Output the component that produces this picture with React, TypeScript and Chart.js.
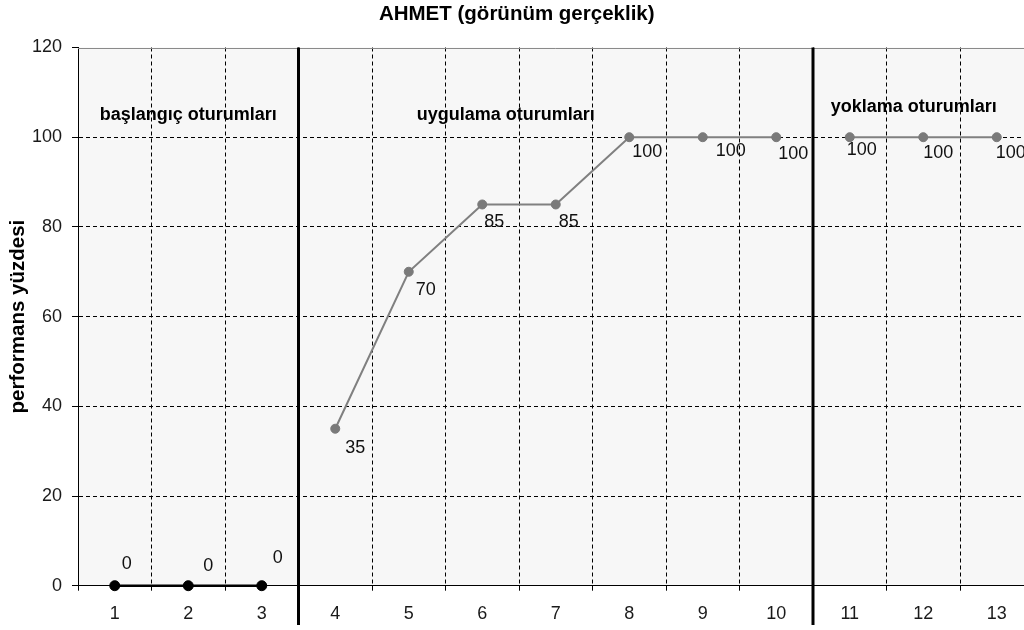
import React, { useEffect, useRef } from 'react';
import { Chart, registerables } from 'chart.js';

Chart.register(...registerables);

// ---- data ----
const sessions = ['1', '2', '3', '4', '5', '6', '7', '8', '9', '10', '11', '12', '13'];
const baselineValues = [0, 0, 0];
const interventionValues = [35, 70, 85, 85, 100, 100, 100];
const probeValues = [100, 100, 100];
const yMin = 0;
const yMax = 120;
const yStep = 20;
const chartTitle = 'AHMET (görünüm gerçeklik)';
const yAxisTitle = 'performans yüzdesi';
const phaseNames = ['başlangıç oturumları', 'uygulama oturumları', 'yoklama oturumları'];
const phaseEnds = [3, 10]; // phase line after these sessions

// ---- label placement (pixel offsets of each value label from its point) ----
const labelOffsets: number[][] = [
  [12, -22], [20, -20], [16, -28],
  [20, 19], [17, 18], [12, 18], [13, 18], [18, 15], [28, 14], [17, 17],
  [12, 13], [15, 16], [14, 16],
];
// phase label anchors in scale units (category index, y value)
const phaseLabelAnchors: number[][] = [
  [1.0, 105.0],
  [5.32, 105.0],
  [10.87, 106.8],
];

const FONT = "'Liberation Sans', Arial, Helvetica, sans-serif";

export default function App() {
  const canvasRef = useRef<HTMLCanvasElement | null>(null);

  useEffect(() => {
    if (!canvasRef.current) return;
    const n = sessions.length;
    const pad = (arr: number[], before: number) => {
      const out: (number | null)[] = [];
      for (let i = 0; i < n; i++) {
        const j = i - before;
        out.push(j >= 0 && j < arr.length ? arr[j] : null);
      }
      return out;
    };
    const baseData = pad(baselineValues, 0);
    const intData = pad(interventionValues, baselineValues.length);
    const probeData = pad(probeValues, baselineValues.length + interventionValues.length);

    const decorPlugin = {
      id: 'decor',
      beforeDraw(chart: any) {
        const { ctx, chartArea: a } = chart;
        ctx.save();
        ctx.fillStyle = '#f7f7f7';
        ctx.fillRect(a.left, a.top, a.right - a.left, a.bottom - a.top);
        ctx.restore();
      },
      beforeDatasetsDraw(chart: any) {
        const { ctx, chartArea: a, scales } = chart;
        const xs = scales.x;
        const ys = scales.y;
        ctx.save();
        // top border
        ctx.strokeStyle = '#8a8a8a';
        ctx.lineWidth = 1;
        ctx.beginPath();
        ctx.moveTo(a.left, Math.round(a.top) + 0.5);
        ctx.lineTo(a.right, Math.round(a.top) + 0.5);
        ctx.stroke();
        // phase lines
        ctx.strokeStyle = '#000';
        ctx.lineWidth = 3;
        phaseEnds.forEach((s) => {
          const x = xs.getPixelForValue(s - 0.5);
          ctx.beginPath();
          ctx.moveTo(x, a.top);
          ctx.lineTo(x, 625);
          ctx.stroke();
        });
        // phase labels
        ctx.fillStyle = '#000';
        ctx.font = `bold 18px ${FONT}`;
        ctx.textAlign = 'center';
        ctx.textBaseline = 'middle';
        phaseNames.forEach((name, i) => {
          const [cx, cy] = phaseLabelAnchors[i];
          ctx.fillText(name, xs.getPixelForValue(cx), ys.getPixelForValue(cy));
        });
        ctx.restore();
      },
      afterDatasetsDraw(chart: any) {
        const { ctx } = chart;
        ctx.save();
        ctx.fillStyle = '#111';
        ctx.font = `18px ${FONT}`;
        ctx.textAlign = 'center';
        ctx.textBaseline = 'middle';
        chart.data.datasets.forEach((ds: any, di: number) => {
          const meta = chart.getDatasetMeta(di);
          meta.data.forEach((el: any, i: number) => {
            const v = ds.data[i];
            if (v === null || v === undefined) return;
            const [dx, dy] = labelOffsets[i];
            ctx.fillText(String(v), el.x + dx, el.y + dy);
          });
        });
        ctx.restore();
      },
    };

    const chart = new Chart(canvasRef.current, {
      type: 'line',
      data: {
        labels: sessions,
        datasets: [
          {
            data: baseData,
            borderColor: '#000',
            borderWidth: 2.5,
            pointRadius: 5,
            pointBackgroundColor: '#000',
            pointBorderColor: '#000',
            pointBorderWidth: 1,
            clip: false as any,
          },
          {
            data: intData,
            borderColor: '#808080',
            borderWidth: 2,
            pointRadius: 4.5,
            pointBackgroundColor: '#7a7a7a',
            pointBorderColor: '#7a7a7a',
            pointBorderWidth: 1,
            clip: false as any,
          },
          {
            data: probeData,
            borderColor: '#808080',
            borderWidth: 2,
            pointRadius: 4.5,
            pointBackgroundColor: '#7a7a7a',
            pointBorderColor: '#7a7a7a',
            pointBorderWidth: 1,
            clip: false as any,
          },
        ],
      },
      options: {
        animation: false,
        responsive: true,
        maintainAspectRatio: false,
        layout: { padding: { left: 0, top: 0, right: 6.5, bottom: 0 } },
        plugins: {
          legend: { display: false },
          tooltip: { enabled: false },
          title: {
            display: true,
            text: chartTitle,
            color: '#000',
            font: { family: FONT, size: 20.5, weight: 'bold' },
            padding: { top: 2.5, bottom: 20.4 },
          },
        },
        scales: {
          x: {
            type: 'category',
            offset: true,
            afterFit: (s: any) => { s.height = 44.3; },
            grid: {
              offset: true,
              color: '#000',
              lineWidth: 1,
              drawTicks: true,
              tickLength: 5,
              tickColor: '#000',
              tickBorderDash: [],
            },
            border: { display: true, color: '#000', width: 1, dash: [4, 3] },
            ticks: {
              color: '#1a1a1a',
              font: { family: FONT, size: 18 },
              padding: 13,
              maxRotation: 0,
              autoSkip: false,
            },
          },
          y: {
            min: yMin,
            max: yMax,
            afterFit: (s: any) => { s.width = 78; },
            grid: {
              color: (c: any) => (c.tick && c.tick.value === yMax ? 'rgba(0,0,0,0)' : '#000'),
              lineWidth: 1,
              drawTicks: true,
              tickLength: 6,
              tickColor: '#000',
              tickBorderDash: [],
            },
            border: { display: true, color: '#000', width: 1, dash: [4, 3] },
            ticks: {
              stepSize: yStep,
              color: '#1a1a1a',
              font: { family: FONT, size: 18 },
              padding: 10,
            },
            title: {
              display: true,
              text: yAxisTitle,
              color: '#000',
              font: { family: FONT, size: 20.5, weight: 'bold' },
              padding: { top: 6, bottom: 0 },
            },
          },
        },
      } as any,
      plugins: [decorPlugin],
    });
    return () => chart.destroy();
  }, []);

  return (
    <div style={{ position: 'fixed', left: 0, top: 0, width: 1024, height: 630, overflow: 'hidden', background: '#fff' }}>
      <div style={{ position: 'relative', width: 1040, height: 630 }}>
        <canvas ref={canvasRef} />
      </div>
    </div>
  );
}
